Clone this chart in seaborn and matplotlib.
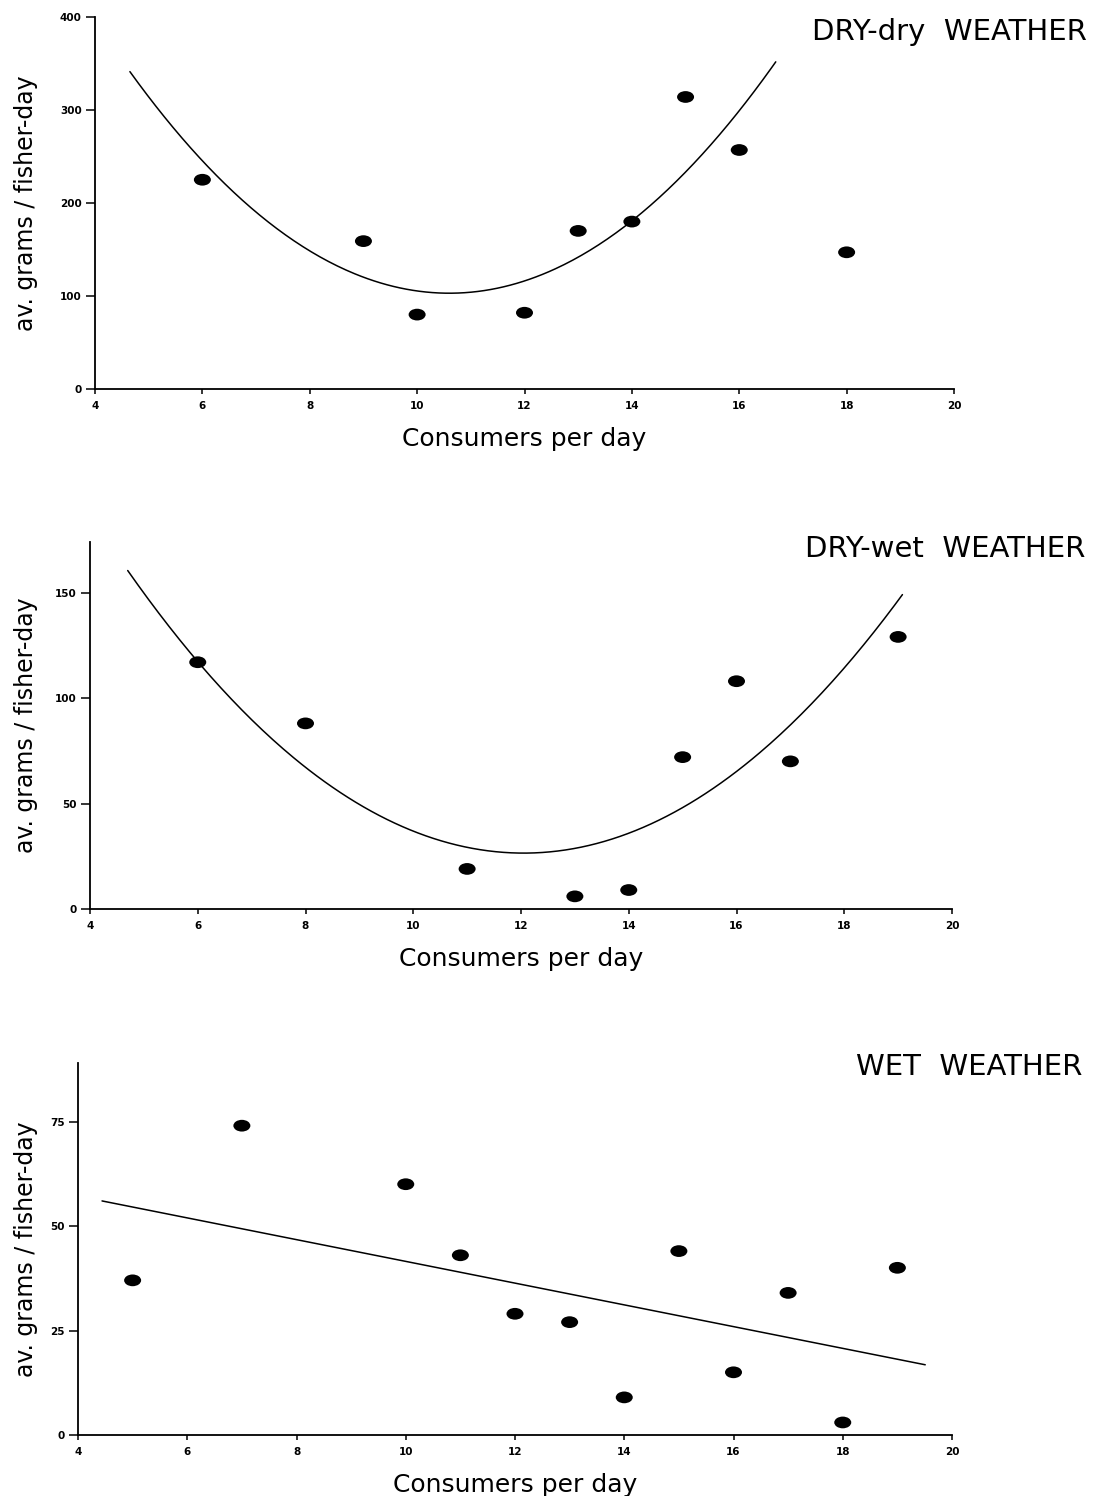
import numpy as np
import pandas as pd
import matplotlib
matplotlib.use("Agg")
import matplotlib.pyplot as plt
from matplotlib.path import Path
from matplotlib.transforms import Affine2D
import seaborn as sns

# ---------------- data ----------------
titles = ["DRY-dry  WEATHER", "DRY-wet  WEATHER", "WET  WEATHER"]

dd_x = [6, 9, 10, 12, 13, 14, 15, 16, 18]
dd_y = [225, 159, 80, 82, 170, 180, 314, 257, 147]

dw_x = [6, 8, 11, 13, 14, 15, 16, 17, 19]
dw_y = [117, 88, 19, 6, 9, 72, 108, 70, 129]

wt_x = [5, 7, 10, 11, 12, 13, 14, 15, 16, 17, 18, 19]
wt_y = [37, 74, 60, 43, 29, 27, 9, 44, 15, 34, 3, 40]

# fitted curves
# quadratic: y = a*(x-h)^2 + k over [x_start, x_end]
dd_curve = dict(a=6.73, h=10.6, k=103, x_start=4.65, x_end=16.68)
dw_curve = dict(a=2.48, h=12.05, k=26.5, x_start=4.7, x_end=19.08)
# straight line: endpoints
wt_line_x = [4.44, 19.51]
wt_line_y = [56, 16.8]

x_ticks = [4, 6, 8, 10, 12, 14, 16, 18, 20]
y_ticks = [[0, 100, 200, 300, 400], [0, 50, 100, 150], [0, 25, 50, 75]]
y_tops = [400, 174, 89]

# ---------------- style ----------------
sns.set_theme(style="ticks")
plt.rcParams["font.family"] = ["DejaVu Sans"]

W, H = 1097, 1496
fig = plt.figure(figsize=(W / 100, H / 100), dpi=100)

# axes boxes in pixels: left, right, top, bottom
boxes = [(95, 954, 17, 389), (90, 952, 542, 909), (78, 952, 1063, 1435)]
title_pos = [(1087, 32), (1085, 549), (1082, 1067)]
ylabel_right = 38   # pixel x of the right edge of the rotated y label

ellipse = Path.unit_circle().transformed(Affine2D().scale(1.0, 0.69))

def quad(c):
    xs = np.linspace(c["x_start"], c["x_end"], 300)
    return xs, c["a"] * (xs - c["h"]) ** 2 + c["k"]

datasets = [
    (dd_x, dd_y, quad(dd_curve)),
    (dw_x, dw_y, quad(dw_curve)),
    (wt_x, wt_y, (np.array(wt_line_x), np.array(wt_line_y))),
]

for i, ((l, r, t, b), (px, py, (cx, cy))) in enumerate(zip(boxes, datasets)):
    ax = fig.add_axes([l / W, 1 - b / H, (r - l) / W, (b - t) / H])
    pts = pd.DataFrame({"x": px, "y": py})
    sns.scatterplot(data=pts, x="x", y="y", ax=ax, color="black",
                    marker=ellipse, s=150, edgecolor="none", linewidth=0)
    crv = pd.DataFrame({"x": cx, "y": cy})
    sns.lineplot(data=crv, x="x", y="y", ax=ax, color="black", lw=1.1,
                 sort=False, estimator=None)
    ax.set_xlim(4, 20)
    ax.set_ylim(0, y_tops[i])
    ax.set_xticks(x_ticks)
    ax.set_yticks(y_ticks[i])
    ax.set_xticklabels([str(v) for v in x_ticks])
    ax.set_yticklabels([str(v) for v in y_ticks[i]])
    sns.despine(ax=ax)
    for s in ("left", "bottom"):
        ax.spines[s].set_linewidth(1.3)
        ax.spines[s].set_color("black")
    ax.tick_params(axis="x", length=3.5, width=1.1, pad=5, labelsize=7.5,
                   colors="black")
    ax.tick_params(axis="y", length=6.5, width=1.1, pad=3, labelsize=7.5,
                   colors="black")
    for lab in ax.get_xticklabels() + ax.get_yticklabels():
        lab.set_fontweight("bold")
    ax.set_xlabel("Consumers per day", fontsize=18, color="black")
    ax.set_ylabel("av. grams / fisher-day", fontsize=17, color="black")
    ax.xaxis.set_label_coords(0.5, -(38 / (b - t)))
    ax.yaxis.set_label_coords((ylabel_right - l) / (r - l), 0.5)
    ax.patch.set_alpha(0)
    tx, ty = title_pos[i]
    fig.text(tx / W, 1 - ty / H, titles[i], ha="right", va="center",
             fontsize=21, color="black")

fig.savefig("out.png", dpi=100, facecolor="white")
